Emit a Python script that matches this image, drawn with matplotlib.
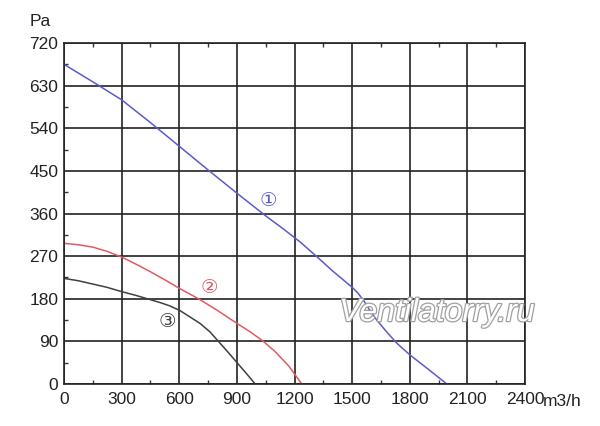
import numpy as np
import matplotlib
matplotlib.use("Agg")
import matplotlib.pyplot as plt
import matplotlib.patheffects as pe
from matplotlib.ticker import MultipleLocator

plt.rcParams['font.family'] = ['Liberation Sans', 'DejaVu Sans']

# curve 1 (blue)
q1 = [0, 150, 300, 450, 600, 750, 900, 1050, 1140, 1229, 1316, 1403, 1498, 1530, 1559, 1590, 1628, 1680, 1733, 1802, 1900, 1993]
p1 = [675, 638, 600, 552, 502, 452, 403, 355, 328, 300, 269, 237, 205, 192, 177, 157, 135, 110, 86, 61, 30, 0]
# curve 2 (red)
q2 = [0, 75, 150, 225, 300, 375, 450, 525, 600, 700, 800, 900, 970, 1038, 1100, 1170, 1238]
p2 = [297, 294, 289, 280, 268, 253, 237, 220, 202, 180, 155, 128, 110, 90, 68, 38, 0]
# curve 3 (black)
q3 = [0, 75, 150, 225, 300, 375, 450, 500, 550, 604, 650, 708, 760, 804, 850, 903, 950, 995]
p3 = [223, 218, 211, 204, 195, 187, 178, 172, 165, 155, 143, 128, 110, 90, 69, 44, 22, 0]

xticks = [0, 300, 600, 900, 1200, 1500, 1800, 2100, 2400]
yticks = [0, 90, 180, 270, 360, 450, 540, 630, 720]

fig = plt.figure(figsize=(6, 4.26), dpi=100)
ax = fig.add_axes([0.1067, 0.0986, 0.7683, 0.8004])

ax.plot(q1, p1, color='#5a5ad0', lw=1.1)
ax.plot(q2, p2, color='#e05a66', lw=1.1)
ax.plot(q3, p3, color='#404040', lw=1.1)

ax.text(1062, 388, '①', color='#5a5ad0', fontsize=14, ha='center', va='center', family=['DejaVu Sans'])
ax.text(755, 203, '②', color='#e05a66', fontsize=14, ha='center', va='center', family=['DejaVu Sans'])
ax.text(536, 133, '③', color='#404040', fontsize=14, ha='center', va='center', family=['DejaVu Sans'])

ax.set_xlim(0, 2400)
ax.set_ylim(0, 720)
ax.set_xticks(xticks)
ax.set_yticks(yticks)
ax.xaxis.set_minor_locator(MultipleLocator(150))
ax.yaxis.set_minor_locator(MultipleLocator(45))
ax.tick_params(which='major', length=0, labelsize=12.5, colors='#222222')
ax.tick_params(axis='x', which='major', pad=6)
ax.tick_params(axis='y', which='major', pad=4)
ax.tick_params(which='minor', direction='in', length=3, top=True, width=1, color='#333333')
ax.grid(True, which='major', color='#222222', lw=1.2)
for s in ax.spines.values():
    s.set_color('#222222')
    s.set_linewidth(1.2)

fig.text(30 / 600, 1 - 22 / 426, 'Pa', fontsize=12.5, ha='left', va='center', color='#222222')
fig.text(543 / 600, 1 - 401 / 426, 'm3/h', fontsize=12.5, ha='left', va='center', color='#222222')

fig.text(437 / 600, 1 - 313 / 426, 'Ventilatorry.ru', fontsize=23, style='italic',
         ha='center', va='center', color='white',
         path_effects=[pe.withStroke(linewidth=1.8, foreground='#a0a0a0')])

fig.savefig('out.png', dpi=100)
